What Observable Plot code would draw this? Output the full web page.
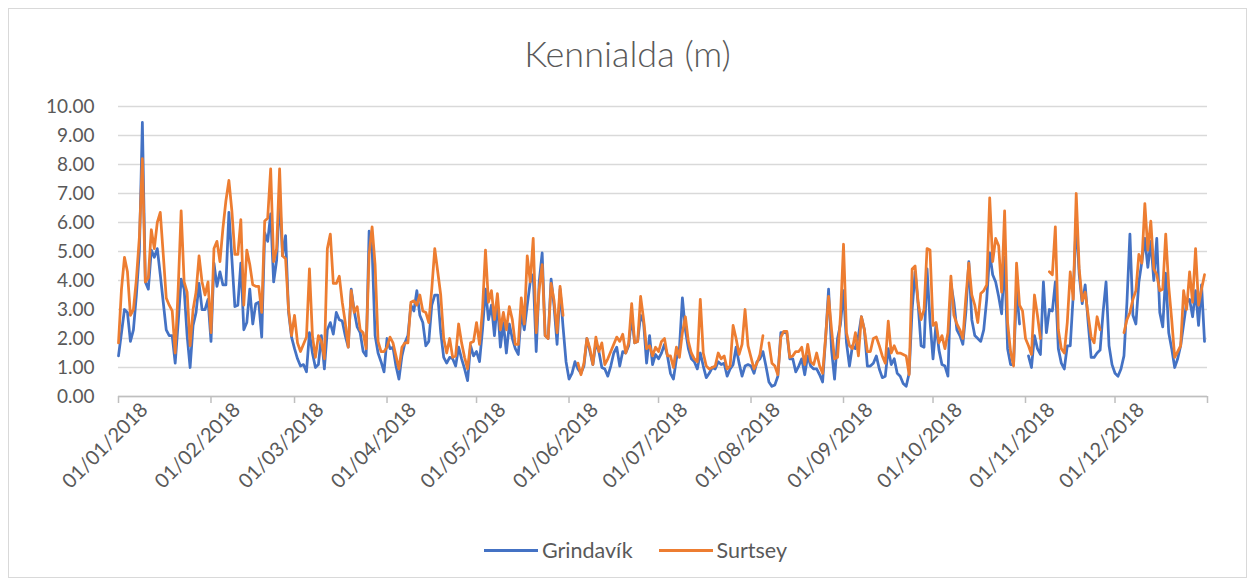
<!DOCTYPE html>
<html>
<head>
<meta charset="utf-8">
<script src="https://cdn.jsdelivr.net/npm/d3@7"></script>
<script src="https://cdn.jsdelivr.net/npm/@observablehq/plot@0.6"></script>
<style>
  html, body { margin: 0; padding: 0; background: #fff; }
  #chart { position: relative; width: 1255px; height: 585px; overflow: hidden; font-family: Lato, "Open Sans", sans-serif; color: #595959; }
  #frame { position: absolute; left: 8px; top: 8px; width: 1237px; height: 568px; border: 1px solid #d9d9d9; }
  #title { position: absolute; left: 8px; width: 1239px; top: 33px; text-align: center; font-size: 36px; font-weight: 300; line-height: 40px; }
  #plot { position: absolute; left: 0; top: 95px; }
  #legend { position: absolute; left: 0; width: 1255px; top: 537px; height: 26px; display: flex; justify-content: center; align-items: center; font-size: 21.5px; padding-left: 16px; box-sizing: border-box; }
  .item { display: flex; align-items: center; margin: 0 13px; }
  .sw { width: 54px; height: 3px; margin-right: 4px; }
</style>
</head>
<body>
<div id="chart">
  <div id="frame"></div>
  <div id="title"></div>
  <div id="plot"></div>
  <div id="legend"></div>
</div>
<script>
// ---- data ----
const chartTitle = "Kennialda (m)";
const seriesNames = ["Grindavík", "Surtsey"];
const seriesColors = ["#4472C4", "#ED7D31"];
const firstDay = "2018-01-01";
const yTicks = [0, 1, 2, 3, 4, 5, 6, 7, 8, 9, 10];
const monthTicks = ["2018-01-01","2018-02-01","2018-03-01","2018-04-01","2018-05-01","2018-06-01",
  "2018-07-01","2018-08-01","2018-09-01","2018-10-01","2018-11-01","2018-12-01","2019-01-01"];
const monthLabels = ["01/01/2018","01/02/2018","01/03/2018","01/04/2018","01/05/2018","01/06/2018",
  "01/07/2018","01/08/2018","01/09/2018","01/10/2018","01/11/2018","01/12/2018"];

// daily values, 1 Jan – 31 Dec 2018 (null = no reading)
const grindavik = [
  1.4,2.2,3.0,2.9,1.9,2.3,3.5,5.0,9.45,3.95,3.7,5.05,4.8,5.1,4.2,3.25,2.3,2.1,2.1,1.15,2.55,4.05,3.7,2.1,1.0,2.45,2.9,3.9,3.0,3.0,3.35,
  1.9,4.6,3.8,4.3,3.85,3.85,6.35,4.75,3.1,3.15,4.6,2.3,2.55,3.7,2.5,3.2,3.25,2.05,5.65,5.35,6.3,3.95,4.7,6.9,4.85,5.55,2.9,2.05,
  1.65,1.3,1.05,1.1,0.85,2.2,1.5,1.0,1.1,2.1,0.95,2.3,2.55,2.15,2.9,2.65,2.6,2.1,1.7,3.7,2.95,2.4,2.2,1.55,1.4,5.7,5.1,2.1,1.5,1.2,0.85,
  2.0,1.65,1.7,1.05,0.6,1.4,1.85,2.1,3.15,2.95,3.65,2.8,2.55,1.75,1.9,3.15,3.5,3.5,2.2,1.35,1.15,1.35,1.3,1.05,1.7,1.3,0.95,0.55,1.75,1.4,
  1.55,1.2,2.3,3.7,2.65,3.15,2.1,3.25,1.7,2.55,1.5,2.5,2.0,1.65,1.45,2.9,2.3,3.15,3.95,4.2,1.55,3.95,4.95,2.1,2.0,4.05,3.1,1.8,3.7,2.4,1.2,
  0.6,0.8,1.2,0.95,0.8,1.05,2.0,1.55,1.1,1.85,1.55,1.0,0.95,0.7,1.05,1.5,1.7,1.05,1.55,1.5,1.75,2.75,1.85,1.9,2.8,2.55,1.15,2.1,1.1,1.45,
  1.3,1.5,1.8,1.4,0.8,0.6,1.3,1.65,3.4,2.3,1.65,1.3,1.2,0.95,1.5,1.05,0.65,0.8,1.0,0.95,1.2,1.1,1.15,0.7,0.95,1.1,1.7,1.15,0.7,1.05,1.1,
  1.05,0.8,1.2,1.3,1.55,1.05,0.5,0.35,0.4,0.7,2.2,2.2,2.2,1.3,1.3,0.85,1.05,1.3,0.75,1.4,1.05,0.95,0.95,0.75,0.5,2.0,3.7,1.6,0.6,2.0,
  2.5,3.65,1.85,1.05,1.75,1.65,2.1,2.75,2.3,1.05,1.05,1.15,1.4,0.95,0.65,0.7,1.65,1.1,1.3,0.8,0.7,0.45,0.35,0.8,3.0,4.3,3.2,1.75,1.7,
  4.4,2.6,1.3,2.5,1.6,1.1,1.05,0.7,3.9,3.25,2.3,2.1,1.8,2.9,4.65,2.65,2.1,2.0,1.9,2.3,3.35,4.95,4.2,3.95,3.45,2.85,4.8,1.65,1.1,1.1,3.7,2.5,
  null,null,1.4,1.0,2.1,1.65,1.45,3.95,2.2,3.0,2.95,3.95,1.65,1.15,0.95,1.75,1.75,3.5,6.15,4.2,3.2,3.85,2.55,1.35,1.35,1.5,1.6,2.9,
  3.95,1.75,1.1,0.8,0.7,0.95,1.4,3.25,5.6,2.8,2.5,3.95,4.65,5.45,4.45,5.35,4.0,5.45,2.9,2.4,4.25,2.2,1.65,1.0,1.3,1.75,2.5,3.25,3.35,
  2.75,3.65,2.45,3.85,1.9
];
const surtsey = [
  1.85,3.7,4.8,4.3,2.8,3.0,4.05,5.5,8.2,3.95,4.1,5.75,5.1,6.0,6.35,4.9,3.4,3.15,2.95,1.5,3.7,6.4,3.95,3.6,1.75,3.0,3.6,4.85,3.95,3.5,3.95,
  2.2,5.1,5.35,4.65,5.8,6.75,7.45,6.4,4.9,4.9,6.1,3.15,5.05,4.55,3.85,3.8,3.8,2.9,6.05,6.15,7.85,4.65,5.1,7.85,4.85,4.75,3.0,2.1,
  2.8,1.85,1.55,1.8,2.05,4.4,2.1,1.35,2.1,1.9,1.3,5.1,5.6,3.9,3.9,4.15,3.25,2.55,1.7,3.65,2.9,3.1,2.3,2.2,1.65,4.9,5.85,4.55,1.9,1.55,1.55,
  1.7,2.05,1.85,1.4,0.95,1.7,1.85,1.85,3.25,3.3,3.15,3.5,2.95,2.9,2.55,3.7,5.1,4.3,3.5,2.0,1.5,2.0,1.35,1.4,2.5,1.85,1.35,0.95,1.85,1.9,
  2.55,1.8,3.0,5.05,3.25,3.65,2.65,3.55,2.3,2.9,2.3,3.1,2.65,1.8,1.8,3.4,2.5,4.85,3.95,5.45,2.2,3.7,4.55,2.1,2.0,3.9,3.3,2.2,3.8,2.8,null,
  null,null,null,1.15,0.75,1.15,2.0,1.65,1.1,2.05,1.55,1.85,1.1,1.3,1.55,1.8,2.05,1.9,2.15,1.5,1.85,3.2,1.85,1.9,3.45,2.65,1.65,1.75,1.4,1.7,
  1.55,1.9,2.0,1.4,1.4,1.0,1.7,1.35,2.2,2.75,1.9,1.5,1.3,1.2,3.35,1.5,1.05,0.95,1.0,1.05,1.5,1.3,1.4,0.95,1.05,2.45,2.0,1.45,1.8,3.0,1.75,
  1.35,0.95,1.15,1.45,2.1,null,1.85,1.15,1.05,0.75,2.05,2.25,2.25,1.35,1.4,1.55,1.55,1.7,1.1,1.8,1.2,1.1,1.5,1.05,0.8,2.05,3.45,2.3,1.3,1.35,
  2.8,5.25,2.2,1.75,1.65,2.2,1.4,2.75,2.3,1.55,1.55,2.0,2.05,1.75,1.4,1.15,2.6,1.5,1.75,1.5,1.5,1.45,1.4,0.75,4.4,4.5,3.25,2.65,3.0,
  5.1,5.05,2.45,2.55,1.85,2.1,1.65,2.2,4.15,2.8,2.5,2.3,2.0,3.4,4.6,3.5,3.15,2.55,3.55,3.65,3.85,6.85,4.65,5.45,5.2,3.6,6.4,2.55,1.55,1.05,4.6,3.15,
  2.95,2.0,1.75,1.45,3.5,2.8,2.0,null,null,4.3,4.2,5.85,2.3,1.65,1.5,2.55,4.3,3.35,7.0,4.4,3.3,3.6,2.8,2.05,1.85,2.75,2.3,null,
  null,null,null,null,null,null,2.2,2.65,2.9,3.35,3.65,4.9,4.6,6.65,5.05,6.05,4.4,4.2,3.65,3.7,5.6,3.8,2.65,1.35,1.55,1.75,3.65,3.0,4.3,
  3.25,5.1,3.15,3.7,4.2
];

// ---- build table ----
const t0 = new Date(firstDay);
const dayAt = i => d3.utcDay.offset(t0, i);
const seriesValues = [grindavik, surtsey];
const rows = [];
seriesNames.forEach((name, s) => {
  seriesValues[s].forEach((v, i) => rows.push({date: dayAt(i), value: v, series: name}));
});
const ticks = monthTicks.map(d => new Date(d));
const labels = monthLabels.map((text, i) => ({date: ticks[i], text}));

document.getElementById("title").textContent = chartTitle;

const chart = Plot.plot({
  width: 1255,
  height: 390,
  marginLeft: 118,
  marginRight: 48,
  marginTop: 11,
  marginBottom: 89,
  style: {fontFamily: "Lato, 'Open Sans', sans-serif", color: "#595959", background: "transparent", overflow: "visible"},
  x: {type: "utc", domain: [ticks[0], ticks[ticks.length - 1]], axis: null},
  y: {domain: [0, 10], axis: null},
  color: {domain: seriesNames, range: seriesColors},
  marks: [
    Plot.gridY(yTicks, {stroke: "#d9d9d9", strokeOpacity: 1, strokeWidth: 1.5}),
    Plot.axisY(yTicks, {tickSize: 0, tickPadding: 24, tickFormat: d3.format(".2f"), label: null, fontSize: 19, fill: "#595959"}),
    Plot.ruleY([0], {stroke: "#bfbfbf", strokeWidth: 1.5}),
    Plot.axisX(ticks, {tickSize: 7, tickFormat: () => "", stroke: "#bfbfbf", strokeWidth: 1.5, label: null}),
    Plot.text(labels, {x: "date", y: () => 0, text: "text", rotate: -45, textAnchor: "end", lineAnchor: "middle",
      dx: 26, dy: 10, fontSize: 20, fill: "#595959"}),
    Plot.line(rows, {x: "date", y: "value", z: "series", stroke: "series", strokeWidth: 2.75, strokeLinejoin: "round", strokeLinecap: "round"})
  ]
});
document.getElementById("plot").appendChild(chart);

const legend = document.getElementById("legend");
seriesNames.forEach((name, i) => {
  const item = document.createElement("div");
  item.className = "item";
  const sw = document.createElement("div");
  sw.className = "sw";
  sw.style.background = seriesColors[i];
  const tx = document.createElement("span");
  tx.textContent = name;
  item.appendChild(sw);
  item.appendChild(tx);
  legend.appendChild(item);
});
</script>
</body>
</html>
